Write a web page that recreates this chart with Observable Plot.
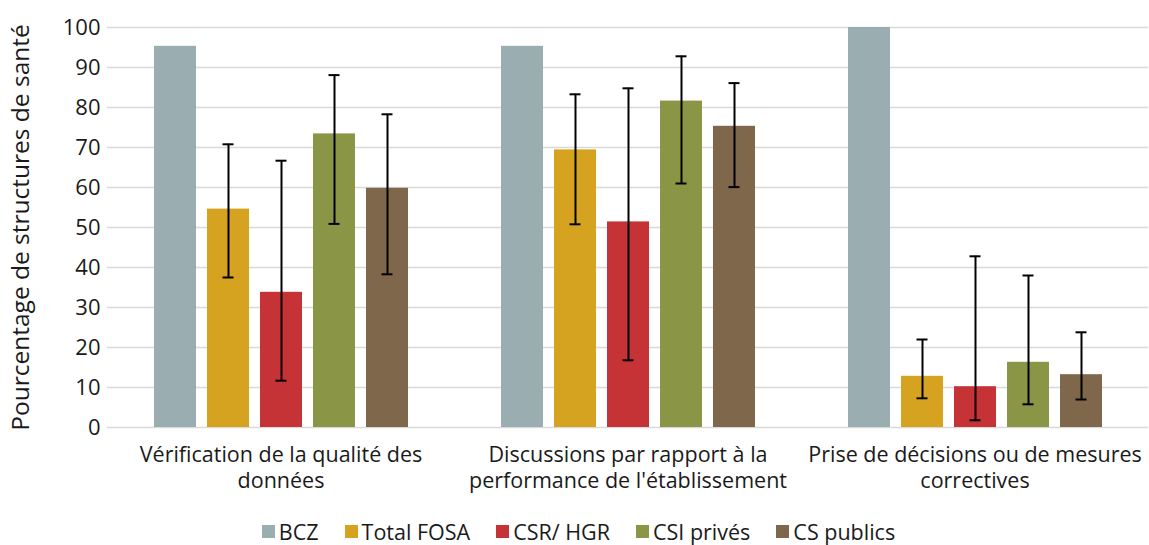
<!DOCTYPE html>
<html>
<head>
<meta charset="utf-8">
<script src="https://cdn.jsdelivr.net/npm/d3@7"></script>
<script src="https://cdn.jsdelivr.net/npm/@observablehq/plot@0.6"></script>
<style>
  html, body { margin: 0; padding: 0; background: #fff; }
  body { width: 1149px; height: 545px; overflow: hidden; font-family: "Open Sans", "Liberation Sans", Arial, sans-serif; color: #1a1a1a; }
  #legend { display: flex; justify-content: center; font-size: 21.5px; margin-top: 14px; padding-left: 8px; line-height: 1.2; }
  #legend .item { display: flex; align-items: center; margin: 0 13px; }
  #legend .sw { width: 13px; height: 13px; margin-right: 4px; }
</style>
</head>
<body>
<div id="chart"></div>
<div id="legend"></div>
<script>
const groups = [
  "Vérification de la qualité des\ndonnées",
  "Discussions par rapport à la\nperformance de l'établissement",
  "Prise de décisions ou de mesures\ncorrectives"
];
const series = ["BCZ", "Total FOSA", "CSR/ HGR", "CSI privés", "CS publics"];
const colors = ["#9AADB1", "#D6A320", "#C63336", "#8A9645", "#7E674A"];

// values per series, one per group
const valBCZ  = [95.3, 95.3, 100];
const valFOSA = [54.6, 69.4, 12.8];
const valCSR  = [33.8, 51.4, 10.2];
const valCSI  = [73.4, 81.6, 16.3];
const valCSP  = [59.8, 75.3, 13.2];

// error bar bounds (null = none)
const lowBCZ  = [null, null, null];
const highBCZ = [null, null, null];
const lowFOSA  = [37.5, 50.8, 7.3];
const highFOSA = [70.8, 83.3, 22.0];
const lowCSR  = [11.7, 16.8, 1.8];
const highCSR = [66.7, 84.8, 42.8];
const lowCSI  = [50.9, 61.0, 5.8];
const highCSI = [88.1, 92.8, 38.0];
const lowCSP  = [38.3, 60.1, 7.0];
const highCSP = [78.3, 86.1, 23.8];

const yTicks = [0, 10, 20, 30, 40, 50, 60, 70, 80, 90, 100];
const yLabel = "Pourcentage de structures de santé";

const vals = [valBCZ, valFOSA, valCSR, valCSI, valCSP];
const lows = [lowBCZ, lowFOSA, lowCSR, lowCSI, lowCSP];
const highs = [highBCZ, highFOSA, highCSR, highCSI, highCSP];

const rows = [];
groups.forEach((g, gi) => {
  series.forEach((s, si) => {
    rows.push({group: g, series: s, value: vals[si][gi], low: lows[si][gi], high: highs[si][gi]});
  });
});
const errRows = rows.filter(d => d.low != null);

const chart = Plot.plot({
  width: 1149,
  height: 505,
  marginLeft: 107,
  marginRight: 1,
  marginTop: 27,
  marginBottom: 78,
  style: {fontFamily: "Open Sans, Liberation Sans, Arial, sans-serif", fontSize: "19px", color: "#1a1a1a", background: "#fff"},
  fx: {domain: groups, padding: 0, label: null},
  x: {domain: series, paddingInner: 0.21, paddingOuter: 0.854, axis: null},
  y: {domain: [0, 100], ticks: yTicks, label: null},
  color: {domain: series, range: colors},
  marks: [
    Plot.gridY(yTicks, {stroke: "#d9d9d9", strokeOpacity: 1, strokeWidth: 1.6}),
    Plot.axisY({ticks: yTicks, tickSize: 0, tickPadding: 7, fontSize: 22, label: yLabel, labelAnchor: "center", labelArrow: "none", labelOffset: 96}),
    Plot.axisFx({anchor: "bottom", tickSize: 0, tickPadding: 15, fontSize: 21.5, lineHeight: 1.25, label: null}),
    Plot.barY(rows, {fx: "group", x: "series", y: "value", fill: "series"}),
    Plot.ruleX(errRows, {fx: "group", x: "series", y1: "low", y2: "high", stroke: "#000", strokeWidth: 2}),
    Plot.tickY(errRows, {fx: "group", x: "series", y: "low", stroke: "#000", strokeWidth: 2, insetLeft: 15.5, insetRight: 15.5}),
    Plot.tickY(errRows, {fx: "group", x: "series", y: "high", stroke: "#000", strokeWidth: 2, insetLeft: 15.5, insetRight: 15.5})
  ]
});
// enlarge the y-axis title
chart.querySelectorAll("text").forEach(t => {
  if (t.textContent === yLabel) t.setAttribute("font-size", "24.5");
});
document.getElementById("chart").appendChild(chart);

const legend = document.getElementById("legend");
series.forEach((s, i) => {
  const item = document.createElement("div");
  item.className = "item";
  const sw = document.createElement("span");
  sw.className = "sw";
  sw.style.background = colors[i];
  const t = document.createElement("span");
  t.textContent = s;
  item.appendChild(sw);
  item.appendChild(t);
  legend.appendChild(item);
});
</script>
</body>
</html>
